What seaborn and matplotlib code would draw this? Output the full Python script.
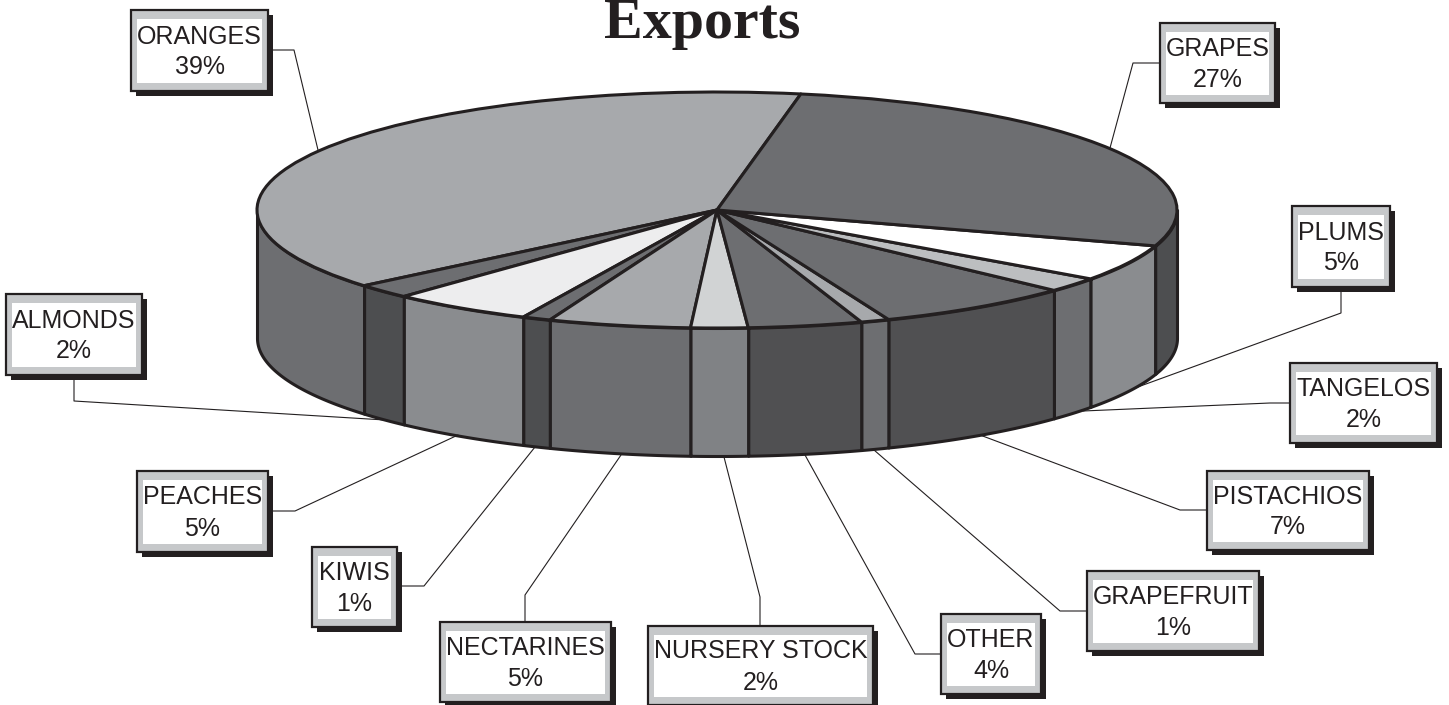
import numpy as np
import seaborn as sns
import matplotlib.pyplot as plt
from matplotlib.patches import Rectangle

# Data, in pie order (counter clockwise from the oranges/grapes cut)
crops = ['ORANGES', 'ALMONDS', 'PEACHES', 'KIWIS', 'NECTARINES', 'NURSERY STOCK',
         'OTHER', 'GRAPEFRUIT', 'PISTACHIOS', 'TANGELOS', 'PLUMS', 'GRAPES']
shares = [39, 2, 5, 1, 5, 2, 4, 1, 7, 2, 5, 27]

top_colors = ['#a7a9ac', '#6d6e71', '#ededee', '#6d6e71', '#a7a9ac', '#d1d3d4',
              '#6d6e71', '#a7a9ac', '#6d6e71', '#bcbec0', '#ffffff', '#6d6e71']
wall_colors = ['#6d6e71', '#4d4e50', '#8a8c8f', '#4d4e50', '#6d6e71', '#808285',
               '#505052', '#6d6e71', '#505052', '#6d6e71', '#8a8c8f', '#4d4e50']

# label boxes in pixels: left, top, right, bottom
boxes = [(131, 10, 268, 91), (6, 294, 142, 375), (137, 471, 268, 552), (312, 547, 397, 627),
         (440, 622, 611, 702), (648, 626, 873, 705), (941, 614, 1041, 694), (1087, 571, 1259, 651),
         (1207, 471, 1369, 550), (1290, 363, 1437, 443), (1292, 206, 1390, 287), (1160, 23, 1275, 103)]

# leader lines in pixels
leaders = [[(273, 50), (294, 50), (318, 150)],
           [(74, 380), (74, 401), (385, 420)],
           [(273, 511), (295, 511), (458, 435)],
           [(402, 586), (424, 586), (535, 447)],
           [(525, 622), (525, 595), (621, 455)],
           [(760, 626), (760, 597), (724, 457)],
           [(941, 654), (915, 654), (805, 455)],
           [(1087, 611), (1060, 611), (874, 450)],
           [(1207, 510), (1180, 510), (980, 435)],
           [(1290, 403), (1270, 403), (1083, 411)],
           [(1341, 292), (1341, 313), (1135, 388)],
           [(1160, 63), (1133, 63), (1110, 148)]]

DARK = '#231f20'
W, H = 1449, 705
CX, CY, RX, RY, DEPTH = 717, 210, 460, 118, 128
START = 79.5

sns.set_theme(style='white', rc={'font.family': ['Liberation Sans', 'DejaVu Sans']})
fig = plt.figure(figsize=(W / 100, H / 100), dpi=100, facecolor='white')

# pie axes: one data unit is the ellipse radius, squashed by the axis limits
ax = fig.add_axes([0, 0, 1, 1])
ax.pie(shares, colors=top_colors, startangle=START, counterclock=True, radius=1,
       wedgeprops={'edgecolor': DARK, 'linewidth': 2.2, 'joinstyle': 'round', 'zorder': 3})
ax.set_aspect('auto')
ax.set_xlim(-CX / RX, (W - CX) / RX)
ax.set_ylim((CY - H) / RY, CY / RY)
ax.axis('off')

# front wall, one piece for each slice
edges = START + np.cumsum([0] + shares) * 3.6
for a, b, col in zip(edges[:-1], edges[1:], wall_colors):
    a, b = max(a, 180), min(b, 360)
    if b <= a:
        continue
    t = np.radians(np.linspace(a, b, 80))
    ax.fill_between(np.cos(t), np.sin(t), np.sin(t) - DEPTH / RY, facecolor=col,
                    edgecolor=DARK, linewidth=2.2, zorder=2)

# overlay in pixel coordinates for the callouts
ov = fig.add_axes([0, 0, 1, 1])
ov.set_xlim(0, W)
ov.set_ylim(H, 0)
ov.patch.set_alpha(0)
ov.axis('off')

for pts in leaders:
    xs, ys = zip(*pts)
    sns.lineplot(x=list(xs), y=list(ys), sort=False, estimator=None, color=DARK,
                 linewidth=0.8, ax=ov, legend=False)

for name, share, (x0, y0, x1, y1) in zip(crops, shares, boxes):
    ov.add_patch(Rectangle((x0 + 5, y0 + 5), x1 - x0, y1 - y0, facecolor=DARK, edgecolor='none', zorder=4))
    ov.add_patch(Rectangle((x0, y0), x1 - x0, y1 - y0, facecolor='#c6c8ca', edgecolor=DARK, linewidth=1.6, zorder=5))
    ov.add_patch(Rectangle((x0 + 6, y0 + 8.5), x1 - x0 - 12, y1 - y0 - 17, facecolor='white', edgecolor='none', zorder=6))
    mid = (x0 + x1) / 2
    cy = (y0 + y1) / 2
    ov.text(mid, cy - 7, name, ha='center', va='baseline', fontsize=18, color=DARK, zorder=7)
    ov.text(mid, cy + 24, f'{share}%', ha='center', va='baseline', fontsize=18, color=DARK, zorder=7)

ov.text(702, 38, 'Exports', ha='center', va='baseline', fontsize=41.8, fontweight='bold',
        family=['Liberation Serif', 'DejaVu Serif'], color=DARK, zorder=7)

fig.savefig('out.png', dpi=100, facecolor='white')
